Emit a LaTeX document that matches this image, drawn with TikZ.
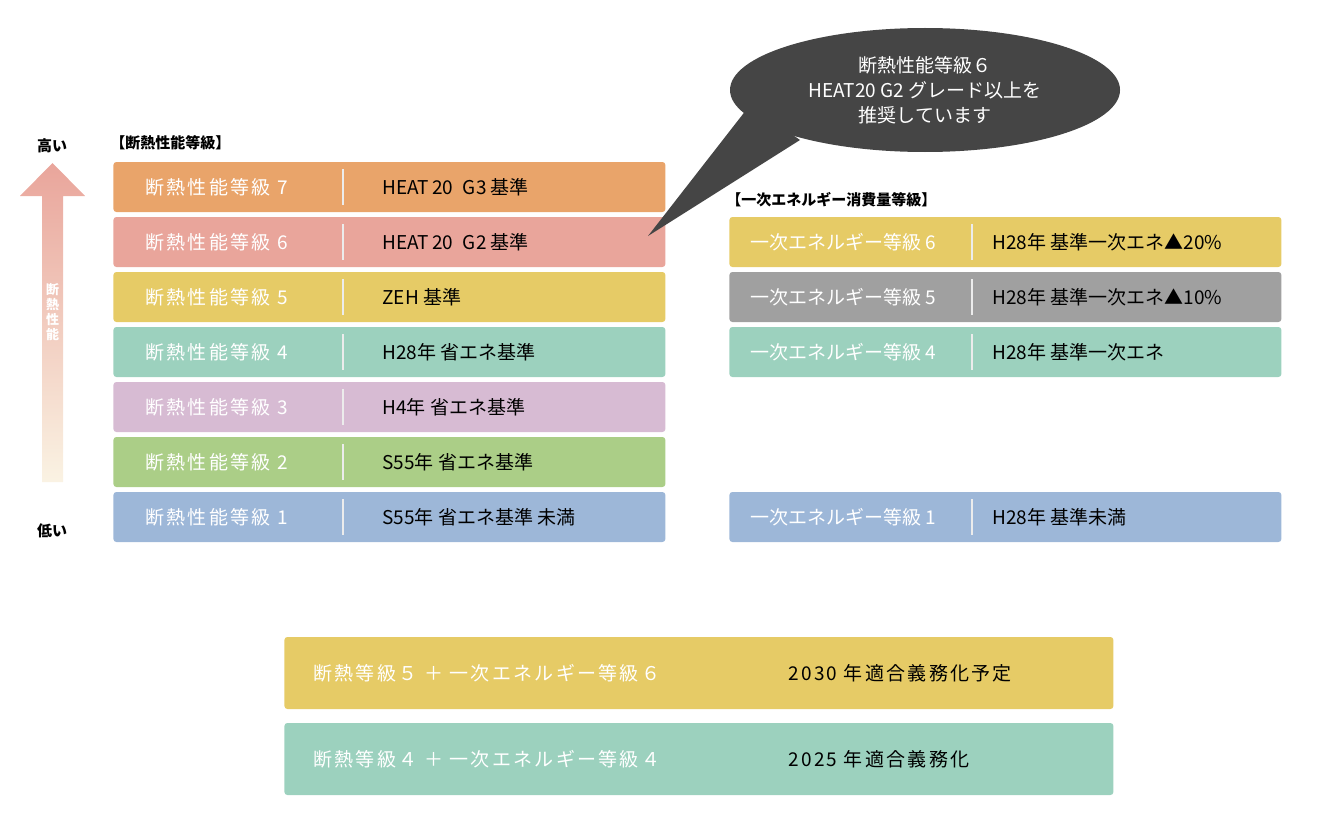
\documentclass[tikz,border=0pt]{standalone}
\usepackage{fontspec}
\setmainfont{Noto Sans CJK JP}
\newfontfamily\jpwide[LetterSpace=12]{Noto Sans CJK JP}
\usetikzlibrary{positioning,calc,shapes.geometric}
\definecolor{gOrange}{HTML}{E9A46A}
\definecolor{gPink}{HTML}{E9A59B}
\definecolor{gYellow}{HTML}{E6CB66}
\definecolor{gTeal}{HTML}{9CD1BE}
\definecolor{gPurple}{HTML}{D7BBD3}
\definecolor{gGreen}{HTML}{ABCE87}
\definecolor{gBlue}{HTML}{9DB7D8}
\definecolor{gGray}{HTML}{A0A0A0}
\definecolor{gDark}{HTML}{454545}
\tikzset{
  bar/.style={rectangle, rounded corners=1.5pt, minimum width=276pt, minimum height=25pt, inner sep=0pt},
  wide/.style={rectangle, rounded corners=1.5pt, minimum width=414.5pt, minimum height=36pt, inner sep=0pt},
  lab/.style={text=white, font=\jpwide\fontsize{9.5}{10}\selectfont, inner sep=0pt},
  val/.style={text=black, font=\fontsize{9.5}{10}\selectfont, inner sep=0pt},
  head/.style={font=\bfseries\fontsize{7.5}{8}\selectfont, inner sep=0pt},
  divider/.style={draw=white!85!gray, line width=0.6pt}
}
\begin{document}
\begin{tikzpicture}[x=0.5pt, y=-0.5pt]
    \useasboundingbox (0,0) rectangle (1320,813);

    % arrow
    \shade[top color=gPink, bottom color=gPink!25!gYellow!20]
        (42,482) -- (42,196) -- (20,196) -- (52.5,163) -- (85,196) -- (63,196) -- (63,482) -- cycle;
    \node[text=white, font=\bfseries\fontsize{6.5}{7.5}\selectfont, align=center, inner sep=0pt] (axis) at (52.5,312) {断\\熱\\性\\能};
    \node[head] (high) at (52,146) {高い};
    \node[head] (low) at (52,531) {低い};

    % insulation grades
    \node[head, anchor=west] (insTitle) at (110,143) {【断熱性能等級】};
    \foreach \y/\c/\n/\t in {187/gOrange/7/{HEAT\,20\enspace G3 基準},
                             242/gPink/6/{HEAT\,20\enspace G2 基準},
                             297/gYellow/5/{ZEH 基準},
                             352/gTeal/4/{H28年 省エネ基準},
                             407/gPurple/3/{H4年 省エネ基準},
                             462/gGreen/2/{S55年 省エネ基準},
                             517/gBlue/1/{S55年 省エネ基準 未満}} {
        \node[bar, fill=\c, anchor=west] (ins\n) at (113,\y) {};
        \node[lab, right=16pt of ins\n.west] (insLab\n) {断熱性能等級 \n};
        \node[val, right=134.5pt of ins\n.west] (insVal\n) {\t};
        \draw[divider] ($(ins\n.west)+(230,-18)$) -- ($(ins\n.west)+(230,18)$);
    }

    % primary energy grades
    \node[head, anchor=west] (engTitle) at (726,200) {【一次エネルギー消費量等級】};
    \foreach \y/\c/\n/\t in {242/gYellow/6/{H28年 基準一次エネ▲20\%},
                             297/gGray/5/{H28年 基準一次エネ▲10\%},
                             352/gTeal/4/{H28年 基準一次エネ},
                             517/gBlue/1/{H28年 基準未満}} {
        \node[bar, fill=\c, anchor=west] (eng\n) at (729,\y) {};
        \node[lab, font=\fontsize{9.5}{10}\selectfont, right=10.5pt of eng\n.west] (engLab\n) {一次エネルギー等級 \n};
        \node[val, right=131.5pt of eng\n.west] (engVal\n) {\t};
        \draw[divider] ($(eng\n.west)+(243,-18)$) -- ($(eng\n.west)+(243,18)$);
    }

    % targets
    \node[wide, fill=gYellow, anchor=west] (goal5) at (284,673) {};
    \node[lab, right=14.5pt of goal5.west] (goalLab5) {断熱等級５ ＋ 一次エネルギー等級６};
    \node[val, font=\jpwide\fontsize{9.5}{10}\selectfont, right=252pt of goal5.west] (goalVal5) {2030 年適合義務化予定};
    \node[wide, fill=gTeal, anchor=west] (goal4) at (284,759) {};
    \node[lab, right=14.5pt of goal4.west] (goalLab4) {断熱等級４ ＋ 一次エネルギー等級４};
    \node[val, font=\jpwide\fontsize{9.5}{10}\selectfont, right=252pt of goal4.west] (goalVal4) {2025 年適合義務化};

    % speech bubble
    \coordinate (tip) at (648,236);
    \fill[gDark] (750,105) -- (tip) -- (800,140) -- cycle;
    \node[ellipse, fill=gDark, minimum width=195pt, minimum height=62pt, inner sep=0pt,
          text=white, align=center, font=\fontsize{9.5}{12.5}\selectfont] (bubble) at (925,90)
          {断熱性能等級６\\HEAT20 G2 グレード以上を\\推奨しています};
\end{tikzpicture}
\end{document}
